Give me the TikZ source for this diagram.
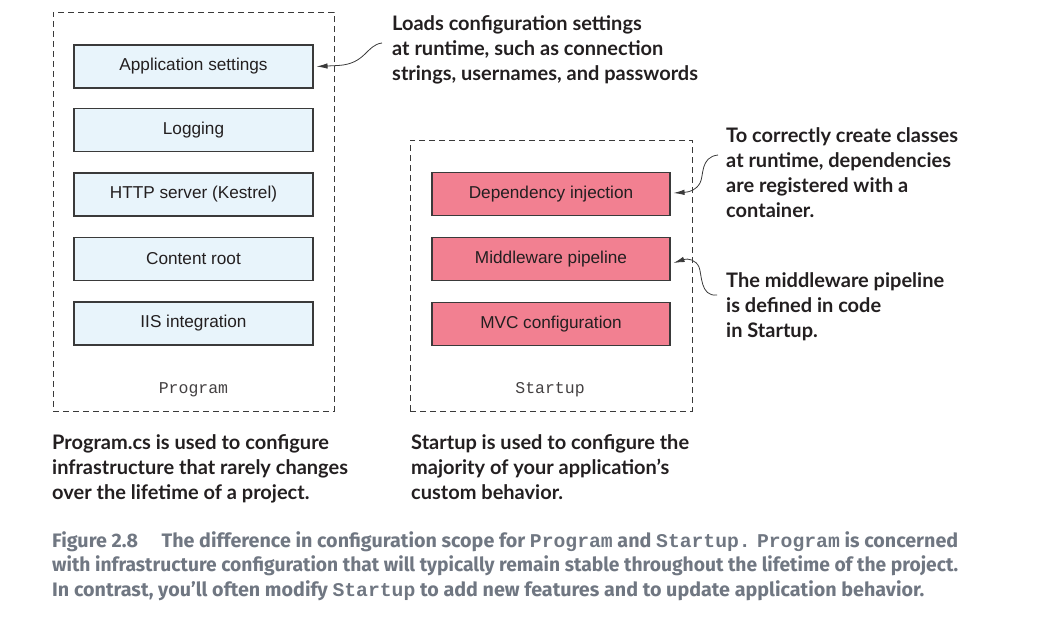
\documentclass[tikz,border=0pt]{standalone}
\usepackage{fontspec}
\usepackage{graphicx}
\usetikzlibrary{arrows.meta}
\setmainfont{Liberation Sans}
\newfontfamily\boxfont{Liberation Sans}
\newfontfamily\annfont{Lato}
\newfontfamily\capfont{Fira Sans}
\newfontfamily\monofont{Liberation Mono}
\definecolor{lblue}{RGB}{232,244,251}
\definecolor{pinkf}{RGB}{242,128,145}
\definecolor{edge}{RGB}{58,58,58}
\definecolor{txt}{RGB}{35,31,32}
\definecolor{capc}{RGB}{112,119,130}
\tikzset{
  dashbox/.style={draw=edge, line width=0.9pt, dash pattern=on 6pt off 4pt, inner sep=0pt},
  progbox/.style={draw=edge, line width=1.1pt, fill=lblue, minimum width=239pt, minimum height=43pt, inner sep=0pt, font=\boxfont\fontsize{17.2}{20}\selectfont, text=txt},
  startbox/.style={progbox, fill=pinkf, minimum width=238pt},
  monolabel/.style={font=\monofont\fontsize{16.5}{20}\selectfont, text=txt!85},
  ann/.style={font=\annfont\bfseries\fontsize{20}{25}\selectfont, text=txt, align=left, inner sep=0pt, anchor=north west},
  conn/.style={draw=edge, line width=0.8pt, -{Latex[length=11pt,width=5.5pt]}},
}
\begin{document}
\begin{tikzpicture}[x=1pt,y=-1pt]
\useasboundingbox (0,0) rectangle (1062,625);
% containers
\node[dashbox, minimum width=281pt, minimum height=399pt] (program) at (193.5,211.5) {};
\node[dashbox, minimum width=282pt, minimum height=271pt] (startup) at (551,275.5) {};
% Program boxes
\node[progbox] (appset) at (193.5,66.5) {Application settings};
\node[progbox] (logging) at (193.5,130) {Logging};
\node[progbox] (http) at (193.5,194.5) {HTTP server (Kestrel)};
\node[progbox] (croot) at (193.5,259) {Content root};
\node[progbox] (iis) at (193.5,323.5) {IIS integration};
\node[monolabel] (proglbl) at (193.5,390) {Program};
% Startup boxes
\node[startbox] (di) at (551,194) {Dependency injection};
\node[startbox] (mw) at (551,259) {Middleware pipeline};
\node[startbox] (mvc) at (551,324) {MVC configuration};
\node[monolabel] (startlbl) at (550,390) {Startup};
% annotations
\node[ann] (ann1) at (392,15.5) {Loads configuration settings\\at runtime, such as connection\\strings, usernames, and passwords};
\node[ann] (ann2) at (726,127.5) {To correctly create classes\\at runtime, dependencies\\are registered with a\\container.};
\node[ann] (ann3) at (726,272.5) {The middleware pipeline\\is defined in code\\in Startup.};
\node[ann] (note1) at (52,434.5) {Program.cs is used to configure\\infrastructure that rarely changes\\over the lifetime of a project.};
\node[ann] (note2) at (411,434.5) {Startup is used to configure the\\majority of your application’s\\custom behavior.};
% connectors
\coordinate (c1) at (382,43);
\coordinate (c2) at (718,155);
\coordinate (c3) at (717,295);
\draw[conn] (c1) .. controls (366,45) and (366,64) .. (338,65.5) -- ([xshift=3pt]appset.east);
\draw[conn] (c2) .. controls (700,157) and (704,176) .. (700,183) .. controls (696,190) and (690,192) .. ([xshift=3pt,yshift=1pt]di.east);
\draw[conn] (c3) .. controls (700,297) and (702,274) .. (699,267) .. controls (696,260) and (688,258) .. ([xshift=3pt,yshift=-4pt]mw.east);
% caption
\node[font=\capfont\bfseries\fontsize{19.5}{24.5}\selectfont, text=capc, align=left, inner sep=0pt, anchor=north west] (caption) at (52,531) {%
\resizebox{906pt}{\height}{Figure 2.8\hspace{1.2em}The difference in configuration scope for {\monofont Program} and {\monofont Startup.} {\monofont Program} is concerned}\\
\resizebox{906pt}{\height}{with infrastructure configuration that will typically remain stable throughout the lifetime of the project.}\\
\resizebox{872pt}{\height}{In contrast, you’ll often modify {\monofont Startup} to add new features and to update application behavior.}};
\end{tikzpicture}
\end{document}
